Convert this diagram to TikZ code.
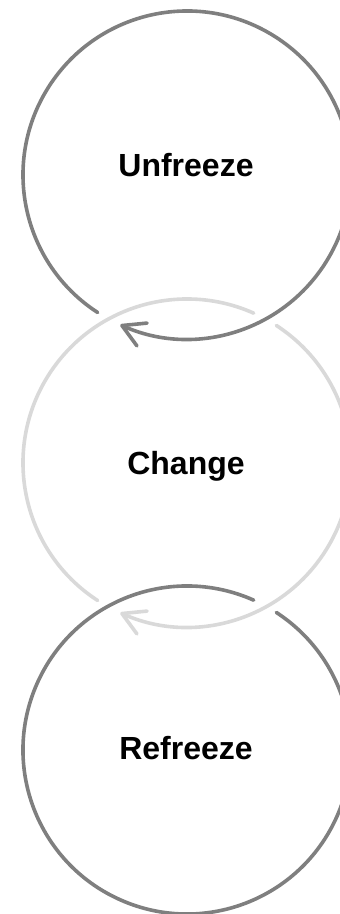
\documentclass[tikz,border=0pt]{standalone}
\usepackage{fontspec}
\setmainfont{Liberation Sans}
\usepackage{tikz}
\usetikzlibrary{positioning,arrows.meta}
\definecolor{ringdark}{HTML}{7F7F7F}
\definecolor{ringlight}{HTML}{D9D9D9}
\tikzset{
  ring/.style={circle,minimum size=328pt,inner sep=0pt,outer sep=0pt},
  stage/.style={font=\fontsize{32}{38}\selectfont\bfseries,anchor=base,text=black},
  darkarc/.style={line width=3.6pt,ringdark,line cap=round},
  lightarc/.style={line width=3.6pt,ringlight,line cap=round},
  cycletip/.style={-{Straight Barb[length=22pt,width=25pt,round]}},
}

\begin{document}
\begin{tikzpicture}[x=1pt,y=1pt]
  \useasboundingbox (0,0) rectangle (340,914);
  \clip (0,0) rectangle (340,914);
  % --- stage circles ---
  \node[ring] (unfreeze) at (187,739) {};
  \node[ring] (change)   at (187,451) {};
  \node[ring] (refreeze) at (187,164) {};
  % --- stage labels ---
  \node[stage] (unfreezelbl) at (186,737) {Unfreeze};
  \node[stage] (changelbl)   at (186,439) {Change};
  \node[stage] (refreezelbl) at (186,154) {Refreeze};
  % --- rings, lowest first so each one lies over the next ---
  \draw[darkarc] (refreeze.66) arc[start angle=66,end angle=417,radius=164pt];
  \draw[lightarc] (change.237) arc[start angle=237,end angle=66,radius=164pt];
  \draw[lightarc,cycletip] (change.57) arc[start angle=57,end angle=-114,radius=164pt];
  \draw[darkarc,cycletip] (unfreeze.237) arc[start angle=237,end angle=-114,radius=164pt];
\end{tikzpicture}
\end{document}
